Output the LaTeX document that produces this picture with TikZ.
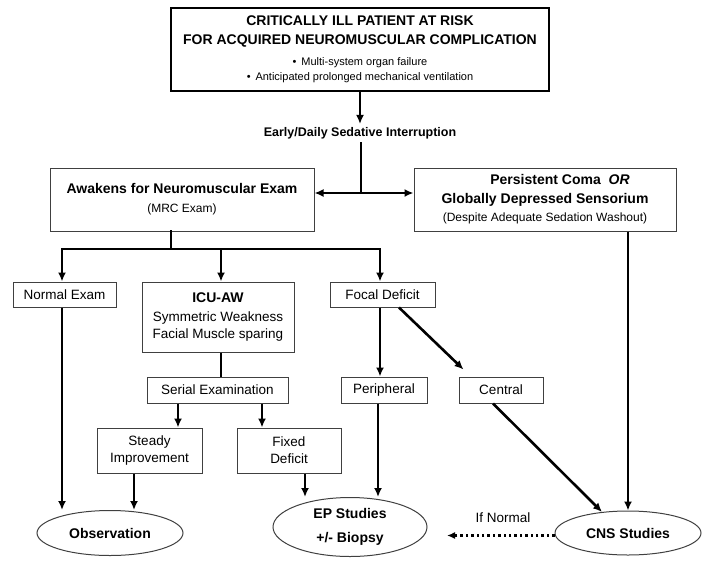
\documentclass[tikz,border=0pt]{standalone}
\usepackage{fontspec}
\setmainfont{Liberation Sans}
\usetikzlibrary{shapes.geometric,arrows.meta}
\newcommand\fsTitle{\fontsize{14}{19}\selectfont\bfseries}
\newcommand\fsBold{\fontsize{14}{19}\selectfont\bfseries}
\newcommand\fsReg{\fontsize{13.5}{17}\selectfont}
\newcommand\fsSmall{\fontsize{12}{17}\selectfont}
\newcommand\fsTiny{\fontsize{11}{15}\selectfont}
\begin{document}
\begin{tikzpicture}[x=1pt,y=-1pt,
  box/.style={draw=black!75, line width=1pt, fill=white, inner sep=0pt, align=center, text=black},
  ell/.style={ellipse, draw=black!75, line width=1pt, inner sep=0pt, align=center},
  conn/.style={line width=2.6pt, black, line cap=rect},
  arr/.style={conn, -{Latex[length=9pt,width=8pt]}},
  plain/.style={inner sep=0pt, align=center}]
\useasboundingbox (0,0) rectangle (709,573);

% top box
\node[box, draw=black, line width=2.8pt, minimum width=378pt, minimum height=83pt,
      font=\fontsize{14}{19}\selectfont] (top) at (360,49.5)
  {\fsTitle CRITICALLY ILL PATIENT AT RISK\\
   \fsTitle FOR ACQUIRED NEUROMUSCULAR COMPLICATION\\[2pt]
   \fsTiny •\, Multi-system organ failure\\[-4pt]
   \fsTiny •\, Anticipated prolonged mechanical ventilation};

\node[plain] (early) at (360,133) {\fontsize{12.5}{15}\selectfont\bfseries Early/Daily Sedative Interruption};
\coordinate (split) at (361,193);

\node[box, minimum width=264pt, minimum height=63pt, font=\fontsize{14}{19}\selectfont] (awake) at (182,199.5)
  {\fsBold Awakens for Neuromuscular Exam\\ \fsSmall (MRC Exam)};
\node[box, minimum width=262pt, minimum height=63pt, font=\fontsize{14}{19}\selectfont] (coma) at (545,199.5)
  {\hspace*{30pt}\fsBold Persistent Coma \ \textit{OR}\\
   \fsBold Globally Depressed Sensorium\\[-1pt]
   \fsSmall (Despite Adequate Sedation Washout)};

\coordinate (bc) at (171,249);
\coordinate (bl) at (62,249);
\coordinate (bm) at (221,249);
\coordinate (br) at (380,249);

\node[box, minimum width=103pt, minimum height=25pt] (normal) at (64.5,294.5) {\fsReg Normal Exam};
\node[box, minimum width=152pt, minimum height=70pt, font=\fontsize{14}{19}\selectfont] (icu) at (218,317)
  {\fsBold ICU-AW\\ \fsReg Symmetric Weakness\\[-2pt] \fsReg Facial Muscle sparing};
\node[box, minimum width=105pt, minimum height=25pt] (focal) at (382.5,294.5) {\fsReg Focal Deficit};

\node[box, minimum width=141pt, minimum height=26pt] (serial) at (217.5,390) {\fsReg Serial Examination};
\node[box, minimum width=86pt, minimum height=26pt] (periph) at (384,390) {\fsReg Peripheral};
\node[box, minimum width=84pt, minimum height=26pt] (central) at (501,390) {\fsReg Central};

\node[box, minimum width=105pt, minimum height=45pt, font=\fontsize{13.5}{17}\selectfont] (steady) at (149.5,450.5)
  {\fsReg Steady\\ \fsReg Improvement};
\node[box, minimum width=104pt, minimum height=45pt, font=\fontsize{13.5}{17}\selectfont] (fixed) at (289,450.5)
  {\fsReg Fixed\\ \fsReg Deficit};

\node[ell, minimum width=146pt, minimum height=45pt] (obs) at (110,533) {\fsBold Observation};
\node[ell, minimum width=154pt, minimum height=59pt, font=\fontsize{14}{24}\selectfont] (ep) at (350,527)
  {\fsBold EP Studies\\ \fsBold +/- Biopsy};
\node[ell, minimum width=146pt, minimum height=44pt] (cns) at (628,533) {\fsBold CNS Studies};

\node[plain] (ifn) at (503,518) {\fsReg If Normal};
\coordinate (dn) at (447,535.5);

% connectors
\draw[arr] (top.south) -- ([yshift=3pt]early.north);
\draw[conn] ([yshift=-4pt]early.south -| split) -- (split);
\draw[arr] (split) -- (awake.east |- split);
\draw[arr] (split) -- (coma.west |- split);

\draw[conn] (awake.south -| bc) -- (bc);
\draw[arr] (br) -- (bl) -- (normal.north -| bl);
\draw[arr] (bm) -- (icu.north -| bm);
\draw[arr] (br) -- (focal.north -| br);

\draw[conn, line cap=butt] (icu.south -| bm) -- (serial.north -| bm);
\coordinate (ss) at ([xshift=-39.5pt]serial.south);
\coordinate (sf) at ([xshift=44.5pt]serial.south);
\draw[arr, line cap=butt] (ss) -- (ss |- steady.north);
\draw[arr, line cap=butt] (sf) -- (sf |- fixed.north);

\draw[arr, line cap=butt] (focal.south -| br) -- (periph.north -| br);
\draw[arr, line cap=butt] ([xshift=16.5pt]focal.south) -- ([xshift=5pt,yshift=7pt]central.north west);
\draw[arr, line cap=butt] ([xshift=-8pt]central.south) -- (cns.141);
\draw[arr, line cap=butt] (coma.south -| cns.north) -- (cns.north);

\draw[arr, line cap=butt] (normal.south -| bl) -- (obs.north -| bl);
\coordinate (so) at ([xshift=-15.5pt]steady.south);
\draw[arr, line cap=butt] (so) -- (so |- obs.north);
\coordinate (fo) at ([xshift=16pt]fixed.south);
\draw[arr, line cap=butt] (fo) -- (fo |- ep.north);
\coordinate (po) at ([xshift=-6pt]periph.south);
\draw[arr, line cap=butt] (po) -- (po |- ep.north);

\draw[line width=2.4pt, dash pattern=on 2.4pt off 3pt, -{Latex[length=8pt,width=7pt]}] (cns.west |- dn) -- (dn);
\end{tikzpicture}
\end{document}
